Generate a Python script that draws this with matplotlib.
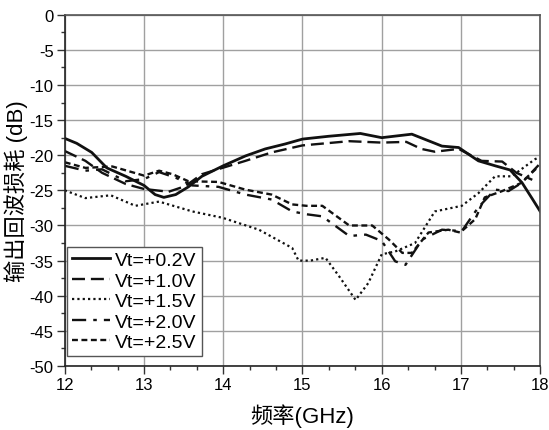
import matplotlib.pyplot as plt
from matplotlib.ticker import MultipleLocator, AutoMinorLocator

plt.rcParams['font.family'] = ['Liberation Sans', 'Noto Sans CJK SC', 'DejaVu Sans']
plt.rcParams['axes.unicode_minus'] = False

# Vt=+0.2V
f1 = [12.0, 12.15, 12.34, 12.53, 12.77, 13.0, 13.14, 13.25, 13.4, 13.56, 13.73, 14.0, 14.28, 14.53,
      14.78, 15.0, 15.33, 15.73, 16.0, 16.38, 16.76, 16.97, 17.22, 17.43, 17.62, 17.77, 17.9, 18.0]
s1 = [-17.6, -18.3, -19.6, -21.8, -23.0, -24.3, -25.6, -26.0, -25.6, -24.5, -23.0, -21.5, -20.1, -19.1,
      -18.4, -17.7, -17.3, -16.9, -17.5, -17.0, -18.7, -18.9, -20.8, -21.5, -22.1, -23.9, -26.2, -28.0]

# Vt=+1.0V
f2 = [12.0, 12.26, 12.47, 12.77, 13.0, 13.31, 13.52, 13.73, 13.99, 14.28, 14.61, 15.0, 15.59,
      16.0, 16.31, 16.5, 16.67, 16.97, 17.26, 17.52, 17.7, 17.9]
s2 = [-19.4, -20.8, -22.5, -24.1, -24.8, -25.2, -24.4, -22.7, -21.8, -20.8, -19.6, -18.6, -18.0,
      -18.2, -18.1, -19.1, -19.5, -19.1, -20.8, -20.9, -22.5, -23.5]

# Vt=+1.5V
f3 = [12.0, 12.26, 12.58, 12.89, 13.19, 13.61, 13.99, 14.45, 14.87, 14.95, 15.1, 15.29, 15.46,
      15.67, 15.83, 16.0, 16.17, 16.42, 16.67, 17.01, 17.22, 17.43, 17.64, 17.93, 17.98]
s3 = [-25.0, -26.1, -25.7, -27.2, -26.6, -28.0, -28.9, -30.6, -33.2, -35.0, -35.0, -34.6, -37.2,
      -40.6, -38.2, -34.1, -33.7, -32.5, -28.0, -27.2, -25.4, -23.0, -23.0, -20.6, -20.3]

# Vt=+2.0V
f4 = [12.0, 12.26, 12.47, 12.77, 13.0, 13.19, 13.4, 13.61, 13.94, 14.28, 14.61, 14.87, 15.05,
      15.25, 15.59, 15.8, 16.0, 16.17, 16.3, 16.51, 16.76, 17.01, 17.22, 17.43, 17.6, 17.77, 17.98]
s4 = [-21.5, -22.2, -22.0, -23.7, -23.4, -22.4, -23.2, -24.3, -24.5, -25.6, -26.3, -28.0, -28.4,
      -28.7, -31.5, -31.3, -32.2, -35.1, -35.6, -32.0, -30.6, -30.8, -27.4, -24.9, -25.1, -23.9, -21.4]

# Vt=+2.5V
f5 = [12.0, 12.26, 12.6, 13.0, 13.19, 13.36, 13.56, 13.94, 14.28, 14.61, 14.87, 15.05, 15.25,
      15.59, 15.88, 16.09, 16.26, 16.38, 16.59, 16.84, 16.99, 17.18, 17.3, 17.52, 17.75, 17.96]
s5 = [-21.0, -21.8, -21.6, -22.9, -22.2, -22.7, -23.7, -23.8, -24.9, -25.6, -27.0, -27.2, -27.2,
      -30.0, -30.0, -32.0, -33.9, -33.9, -31.0, -30.6, -31.0, -29.1, -26.0, -25.1, -24.0, -21.8]

labels = ['Vt=+0.2V', 'Vt=+1.0V', 'Vt=+1.5V', 'Vt=+2.0V', 'Vt=+2.5V']

fig = plt.figure(figsize=(5.49, 4.31), dpi=100)
ax = fig.add_axes([0.118, 0.1485, 0.866, 0.815])

ax.plot(f1, s1, color='#111111', lw=2.0, ls='-', label=labels[0])
ax.plot(f2, s2, color='#111111', lw=1.7, ls=(0, (5.5, 2.5)), label=labels[1])
ax.plot(f3, s3, color='#111111', lw=1.6, ls=(0, (1, 1.4)), label=labels[2])
ax.plot(f4, s4, color='#111111', lw=1.7, ls=(0, (6, 3, 1.5, 3)), label=labels[3])
ax.plot(f5, s5, color='#111111', lw=1.7, ls=(0, (2.5, 1.5)), label=labels[4])

ax.set_xlim(12, 18)
ax.set_ylim(-50, 0)
ax.xaxis.set_major_locator(MultipleLocator(1))
ax.xaxis.set_minor_locator(AutoMinorLocator(3))
ax.yaxis.set_major_locator(MultipleLocator(5))
ax.yaxis.set_minor_locator(AutoMinorLocator(2))
ax.tick_params(which='both', direction='out', labelsize=12, color='#333333', pad=2.5)
ax.tick_params(which='major', length=5.5, width=1.0)
ax.tick_params(which='minor', length=3, width=1.0)
ax.grid(True, which='major', color='#a0a0a0', lw=1.0)

for side in ['left', 'bottom']:
    ax.spines[side].set_color('#222222')
    ax.spines[side].set_linewidth(1.2)
for side in ['top', 'right']:
    ax.spines[side].set_color('#555555')
    ax.spines[side].set_linewidth(1.2)

ax.set_xlabel('频率(GHz)', fontsize=16, labelpad=8)
ax.set_ylabel('输出回波损耗 (dB)', fontsize=16, labelpad=1)

leg = ax.legend(loc='lower left', bbox_to_anchor=(0.004, 0.028), fontsize=14, frameon=True,
                fancybox=False, edgecolor='#555555', framealpha=1, handlelength=2.0,
                borderaxespad=0.0, labelspacing=0.15, handletextpad=0.25, borderpad=0.25)
leg.get_frame().set_linewidth(1.0)

fig.savefig('out.png', dpi=100)
